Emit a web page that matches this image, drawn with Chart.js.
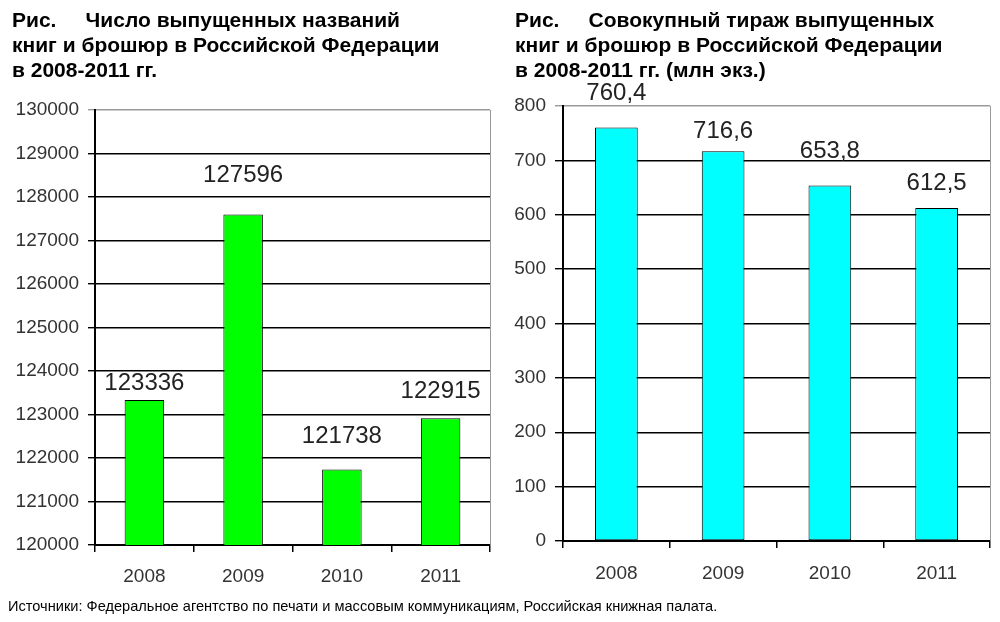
<!DOCTYPE html>
<html>
<head>
<meta charset="utf-8">
<script src="https://cdn.jsdelivr.net/npm/chart.js@4"></script>
<style>
  body { margin: 0; background: #fff; width: 1000px; height: 622px; position: relative; overflow: hidden; font-family: "Liberation Sans", Arial, sans-serif; }
  .title { position: absolute; top: 7px; font-weight: bold; font-size: 21px; line-height: 25px; color: #000; white-space: pre; }
  .box { position: absolute; top: 0; width: 500px; height: 600px; }
  #src { position: absolute; left: 8px; top: 598px; font-size: 14.6px; color: #000; }
</style>
</head>
<body>
<div class="box" style="left:0"><canvas id="chart1"></canvas></div>
<div class="box" style="left:500px"><canvas id="chart2"></canvas></div>
<div class="title" style="left:12px">Рис.     Число выпущенных названий
книг и брошюр в Российской Федерации
в 2008-2011 гг.</div>
<div class="title" style="left:515px">Рис.     Совокупный тираж выпущенных
книг и брошюр в Российской Федерации
в 2008-2011 гг. (млн экз.)</div>
<div id="src">Источники: Федеральное агентство по печати и массовым коммуникациям, Российская книжная палата.</div>
<script>
const years = ['2008', '2009', '2010', '2011'];
const titlesCount = [123336, 127596, 121738, 122915];
const titlesLabels = ['123336', '127596', '121738', '122915'];
const copiesCount = [760.4, 716.6, 653.8, 612.5];
const copiesLabels = ['760,4', '716,6', '653,8', '612,5'];

Chart.defaults.font.family = '"Liberation Sans", Arial, sans-serif';
Chart.defaults.color = '#333';
Chart.defaults.plugins.legend.display = false;
Chart.defaults.plugins.tooltip.enabled = false;
Chart.defaults.animation = false;
Chart.defaults.responsive = false;

// value labels above the bars + grey right frame
const extras = {
	id: 'extras',
	afterDatasetsDraw: function (chart, args, opts) {
		const ctx = chart.ctx;
		const area = chart.chartArea;
		ctx.save();
		ctx.strokeStyle = '#999';
		ctx.lineWidth = 1;
		ctx.beginPath();
		ctx.moveTo(area.right + 0.5, area.top);
		ctx.lineTo(area.right + 0.5, area.bottom);
		ctx.stroke();
		ctx.fillStyle = '#222';
		ctx.font = '24px "Liberation Sans", Arial, sans-serif';
		ctx.textAlign = 'center';
		ctx.textBaseline = 'bottom';
		chart.getDatasetMeta(0).data.forEach(function (bar, i) {
			ctx.fillText(opts.labels[i], bar.x, bar.y - opts.gaps[i]);
		});
		ctx.restore();
	}
};

function makeChart(id, data, color, yMin, yMax, step, labels, gaps, yWidth, tickLen, xPad) {
	const el = document.getElementById(id);
	el.width = 500;
	el.height = 600;
	return new Chart(el.getContext('2d'), {
		type: 'bar',
		data: {
			labels: years,
			datasets: [{
				data: data,
				backgroundColor: color,
				borderColor: '#000',
				borderWidth: 1,
				borderSkipped: false,
				categoryPercentage: 0.8,
				barPercentage: 0.5
			}]
		},
		options: {
			layout: { padding: { left: 0, right: 10, top: yWidth === 95 ? 110 : 106, bottom: 0 } },
			scales: {
				x: {
					offset: true,
					grid: { offset: true, drawOnChartArea: false, color: '#000', tickLength: 7, lineWidth: 1.5 },
					border: { color: '#000', width: 2 },
					ticks: { font: { size: 19 }, padding: xPad, color: '#333' },
					afterFit: function (s) { s.height = 600 - (yWidth === 95 ? 545 : 541); }
				},
				y: {
					min: yMin,
					max: yMax,
					ticks: {
						stepSize: step, font: { size: 19 }, padding: 9, color: '#333',
						callback: function (v) { return String(v); }
					},
					grid: {
						color: function (c) { return c.tick && c.tick.value === yMax ? '#999' : '#000'; },
						lineWidth: 1.4,
						tickLength: tickLen
					},
					border: { color: '#000', width: 2 },
					afterFit: function (s) { s.width = yWidth; }
				}
			},
			plugins: { extras: { labels: labels, gaps: gaps } }
		},
		plugins: [extras]
	});
}

makeChart('chart1', titlesCount, '#00ff00', 120000, 130000, 1000, titlesLabels, [5, 27, 21, 15], 95, 7, 13);
makeChart('chart2', copiesCount, '#00ffff', 0, 800, 100, copiesLabels, [22, 8, 22, 13], 63, 8, 14);
</script>
</body>
</html>
